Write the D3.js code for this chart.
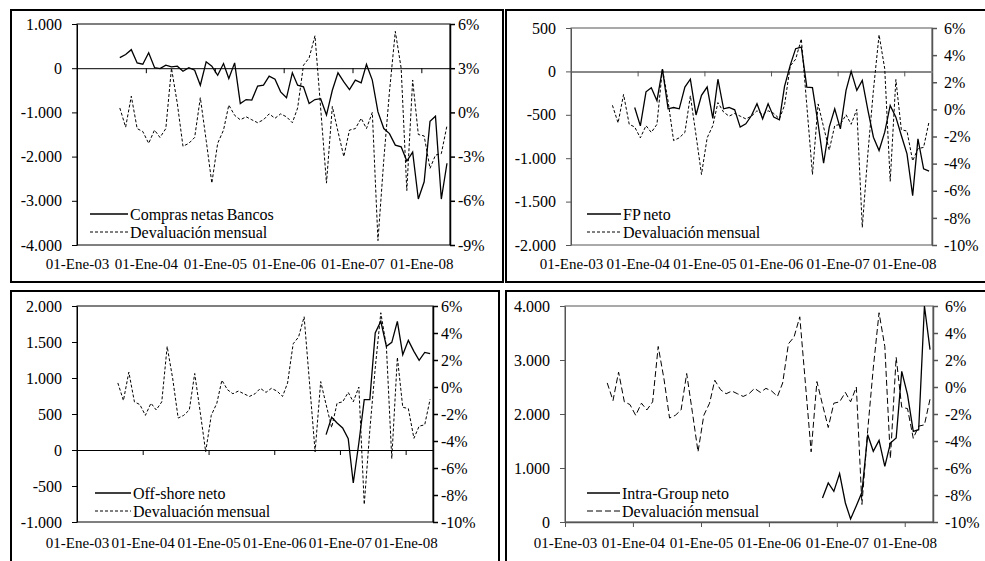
<!DOCTYPE html>
<html><head><meta charset="utf-8">
<script src="https://cdn.jsdelivr.net/npm/d3@7"></script>
<style>
body{margin:0;background:#fff}
svg{display:block}
text{font-family:"Liberation Serif","Times New Roman",serif;fill:#000}
</style>
</head><body>
<svg id="c" width="985" height="561"></svg>
<script>
// ---------- DATA ----------
const months = ["2003-08","2003-09","2003-10","2003-11","2003-12",
"2004-01","2004-02","2004-03","2004-04","2004-05","2004-06","2004-07","2004-08","2004-09","2004-10","2004-11","2004-12",
"2005-01","2005-02","2005-03","2005-04","2005-05","2005-06","2005-07","2005-08","2005-09","2005-10","2005-11","2005-12",
"2006-01","2006-02","2006-03","2006-04","2006-05","2006-06","2006-07","2006-08","2006-09","2006-10","2006-11","2006-12",
"2007-01","2007-02","2007-03","2007-04","2007-05","2007-06","2007-07","2007-08","2007-09","2007-10","2007-11","2007-12",
"2008-01","2008-02","2008-03","2008-04","2008-05"];

const xTickDates = ["2003-01","2004-01","2005-01","2006-01","2007-01","2008-01"];
const xTickLabels = ["01-Ene-03","01-Ene-04","01-Ene-05","01-Ene-06","01-Ene-07","01-Ene-08"];

// Devaluación mensual (%)
const devaluacion = [0.3,-1.0,1.1,-1.1,-1.3,-2.1,-1.2,-1.7,-1.1,3.0,0.6,-2.3,-2.1,-1.7,1.0,-1.9,-4.8,-2.1,-1.2,0.5,
-0.2,-0.5,-0.3,-0.5,-0.7,-0.5,-0.1,-0.4,-0.1,-0.3,-0.7,0.3,3.2,3.7,5.2,0.3,-4.8,0.4,-1.3,-3.0,
-1.2,-1.1,-0.4,-1.1,0.0,-8.7,-3.2,1.4,5.5,3.0,-5.3,2.2,-1.5,-1.6,-3.8,-2.9,-2.8,-0.9];

const comprasNetasBancos = [240,310,420,120,90,350,15,-10,70,30,45,-70,10,-45,-385,145,45,-160,105,-235,120,-800,-710,
-720,-405,-385,-180,-250,-535,-670,-105,-385,-420,-800,-710,-690,-1060,-500,-105,-310,-485,-270,-330,
85,-270,-990,-1365,-1480,-1740,-1780,-2100,-1900,-2960,-2570,-1200,-1085,-2960,-2150];

const fpNeto = [null,null,null,null,
-416,-627,-235,-188,-337,27,-431,-416,-431,-180,-90,-502,-275,-180,-541,-90,-431,-416,-443,
-642,-604,-508,-373,-546,-373,-527,-558,-173,69,262,281,-181,-188,-604,-1058,-642,-431,-662,-219,
0,-219,-104,-450,-758,-912,-700,-392,-527,-738,-950,-1431,-777,-1123,-1150];

const offShoreNeto = [null,null,null,null,null,null,null,null,null,null,null,null,null,null,null,null,null,null,null,
null,null,null,null,null,null,null,null,null,null,null,null,null,null,null,null,null,null,null,
213,454,375,306,157,-458,97,699,699,1625,1787,1440,1495,1787,1324,1523,1370,1245,1356,1338];

const intraGroupNeto = [null,null,null,null,null,null,null,null,null,null,null,null,null,null,null,null,null,null,null,
null,null,null,null,null,null,null,null,null,null,null,null,null,null,null,null,null,null,null,
444,722,568,895,352,56,302,549,1617,1309,1512,1031,1463,1556,2790,2358,1679,1710,4000,3191];

const leftTicks1 = [1000,0,-1000,-2000,-3000,-4000];
const rightTicks1 = [6,3,0,-3,-6,-9];
const leftTicks2 = [500,0,-500,-1000,-1500,-2000];
const leftTicks3 = [2000,1500,1000,500,0,-500,-1000];
const leftTicks4 = [4000,3000,2000,1000,0];
const rightTicks234 = [6,4,2,0,-2,-4,-6,-8,-10];

// ---------- LAYOUT ----------
const svg = d3.select("#c");
const loc = d3.formatLocale({decimal:",",thousands:".",grouping:[3],currency:["$",""],minus:"-"});
const fmtN = loc.format(",d");
const fmtP = d => d + "%";
const parseM = s => { const [y,m] = s.split("-").map(Number); return new Date(Date.UTC(y, m-1, 16)); };
const parseT = s => { const [y,m] = s.split("-").map(Number); return new Date(Date.UTC(y, m-1, 1)); };
const domainX = [new Date(Date.UTC(2003,0,1)), new Date(Date.UTC(2008,5,1))];

const panels = [
  {frame:[11,10,503,282], plot:{l:77,t:24,r:450,b:245}, left:[-4000,1000], lt:leftTicks1, right:[-9,6], rt:rightTicks1,
   series:comprasNetasBancos, name:"Compras netas Bancos", dash:"3,2", leg:{x1:90,x2:128,y:214}, zeroCol:"#000", zeroW:1,
   axisCol:"#000", rPad:3, xLabY:268},
  {frame:[506,10,990,282], plot:{l:571,t:28,r:932,b:245}, left:[-2000,500], lt:leftTicks2, right:[-10,6], rt:rightTicks234,
   series:fpNeto, name:"FP neto", dash:"3,2", leg:{x1:587,x2:621,y:214}, zeroCol:"#888", zeroW:2,
   axisCol:"#555", rPad:7, xLabY:268},
  {frame:[11,291,499,570], plot:{l:77,t:306,r:433,b:522}, left:[-1000,2000], lt:leftTicks3, right:[-10,6], rt:rightTicks234,
   series:offShoreNeto, name:"Off-shore neto", dash:"3,2", leg:{x1:95,x2:131,y:493}, zeroCol:"#000", zeroW:1,
   axisCol:"#000", rPad:3, xLabY:547},
  {frame:[506,291,990,570], plot:{l:565,t:306,r:933,b:522}, left:[0,4000], lt:leftTicks4, right:[-10,6], rt:rightTicks234,
   series:intraGroupNeto, name:"Intra-Group neto", dash:"6,3", leg:{x1:587,x2:620,y:493}, zeroCol:"#555", zeroW:1.5,
   axisCol:"#555", rPad:7, xLabY:547}
];

panels.forEach((p, k) => {
  const g = svg.append("g");
  const [fx0, fy0, fx1, fy1] = p.frame;
  g.append("rect").attr("x", fx0).attr("y", fy0).attr("width", fx1 - fx0).attr("height", fy1 - fy0)
    .attr("fill", "none").attr("stroke", "#000").attr("stroke-width", 2);

  const P = p.plot;
  const x = d3.scaleUtc().domain(domainX).range([P.l, P.r]);
  const yL = d3.scaleLinear().domain(p.left).range([P.b, P.t]);
  const yR = d3.scaleLinear().domain(p.right).range([P.b, P.t]);

  // plot border
  g.append("rect").attr("x", P.l).attr("y", P.t).attr("width", P.r - P.l).attr("height", P.b - P.t)
    .attr("fill", "none").attr("stroke", p.axisCol).attr("stroke-width", 1);

  // left axis
  const ax = g.append("g").attr("transform", `translate(${P.l},0)`)
    .call(d3.axisLeft(yL).tickValues(p.lt).tickFormat(fmtN).tickSize(5).tickSizeOuter(0).tickPadding(10));
  ax.selectAll("text").style("font-size", "16px").attr("font-family", "Liberation Serif");
  ax.selectAll("line,path").attr("stroke", p.axisCol);

  // right axis
  const ar = g.append("g").attr("transform", `translate(${P.r},0)`)
    .call(d3.axisRight(yR).tickValues(p.rt).tickFormat(fmtP).tickSize(5).tickSizeOuter(0).tickPadding(p.rPad));
  ar.selectAll("text").style("font-size", "16px").attr("font-family", "Liberation Serif");
  ar.selectAll("line,path").attr("stroke", p.axisCol).attr("stroke-width", 1.5);

  // horizontal axis at value 0 with year ticks
  const tickDates = xTickDates.map(parseT);
  const axz = g.append("g").attr("transform", `translate(0,${yL(0)})`)
    .call(d3.axisBottom(x).tickValues(tickDates).tickFormat("").tickSize(5).tickSizeOuter(0));
  axz.select(".domain").attr("stroke", p.zeroCol).attr("stroke-width", p.zeroW);
  axz.selectAll(".tick line").attr("stroke", p.axisCol);

  // x labels at bottom
  const axl = g.append("g").attr("transform", `translate(0,${p.xLabY - 10})`)
    .call(d3.axisBottom(x).tickValues(tickDates).tickFormat((d, i) => xTickLabels[i]).tickSize(0).tickPadding(0));
  axl.select(".domain").remove();
  axl.selectAll("text").style("font-size", "15px").attr("font-family", "Liberation Serif");

  // clip
  const cid = "clip" + k;
  svg.append("clipPath").attr("id", cid).append("rect")
    .attr("x", P.l).attr("y", P.t - 1).attr("width", P.r - P.l).attr("height", P.b - P.t + 2);

  const dates = months.map(parseM);
  const lineL = d3.line().defined(d => d[1] != null).x(d => x(d[0])).y(d => yL(d[1]));
  const lineR = d3.line().defined(d => d[1] != null).x(d => x(d[0])).y(d => yR(d[1]));

  const pl = g.append("g").attr("clip-path", `url(#${cid})`);
  pl.append("path").datum(dates.map((d, i) => [d, devaluacion[i]])).attr("d", lineR)
    .attr("fill", "none").attr("stroke", "#000").attr("stroke-width", 1).attr("stroke-dasharray", p.dash);
  pl.append("path").datum(dates.map((d, i) => [d, p.series[i]])).attr("d", lineL)
    .attr("fill", "none").attr("stroke", "#000").attr("stroke-width", 1.3);

  // legend
  const L = p.leg;
  const rows = [{t: p.name, dash: null}, {t: "Devaluación mensual", dash: p.dash}];
  rows.forEach((r, i) => {
    const yy = L.y + i * 18;
    g.append("line").attr("x1", L.x1).attr("x2", L.x2).attr("y1", yy).attr("y2", yy)
      .attr("stroke", "#000").attr("stroke-width", r.dash ? 1 : 1.3).attr("stroke-dasharray", r.dash);
    g.append("text").attr("x", L.x2 + 2).attr("y", yy).attr("dy", "0.35em")
      .style("font-size", "16px").style("word-spacing", "-1px").text(r.t);
  });
});
</script>
</body></html>
